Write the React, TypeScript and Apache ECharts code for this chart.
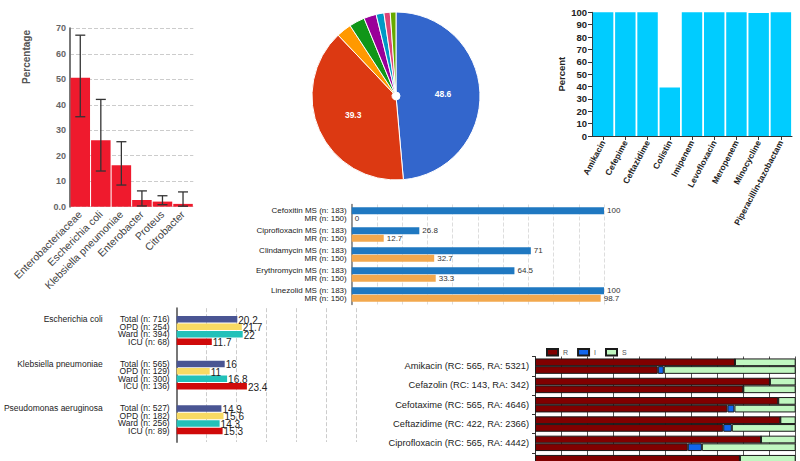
import React, { useEffect, useRef } from "react";
import * as echarts from "echarts";

const FONT = "'Liberation Sans', Arial, Helvetica, sans-serif";

// ---- Chart A: genera with error bars ----
const generaNames = ["Enterobacteriaceae", "Escherichia coli", "Klebsiella pneumoniae", "Enterobacter", "Proteus", "Citrobacter"];
const generaPct = [50.6, 26.1, 16.3, 2.6, 2.0, 1.1];
const generaLow = [35.3, 14.0, 8.5, 0.3, 0.8, 0.2];
const generaHigh = [67.3, 42.1, 25.5, 6.2, 4.3, 5.8];

// ---- Chart B: pie ----
const pieValues = [48.6, 39.3, 2.9, 3.0, 2.4, 1.5, 1.2, 1.1];
const pieColors = ["#3366cc", "#dc3912", "#ff9900", "#109618", "#990099", "#0099c6", "#dd4477", "#66aa00"];

// ---- Chart C: percent by antibiotic ----
const drugsC = ["Amikacin", "Cefepime", "Ceftazidime", "Colistin", "Imipenem", "Levofloxacin", "Meropenem", "Minocycline", "Piperacillin-tazobactam"];
const percentC = [100, 100, 100, 39.3, 100, 100, 100, 99.4, 100];

// ---- Chart D: MS / MR ----
const drugsD = ["Cefoxitin", "Ciprofloxacin", "Clindamycin", "Erythromycin", "Linezolid"];
const msValues = [100, 26.8, 71, 64.5, 100];
const mrValues = [0, 12.7, 32.7, 33.3, 98.7];
const msN = 183;
const mrN = 150;

// ---- Chart E: species by setting ----
const species = ["Escherichia coli", "Klebsiella pneumoniae", "Pseudomonas aeruginosa"];
const settings = ["Total", "OPD", "Ward", "ICU"];
const totalVals = [20.2, 16, 14.9];
const opdVals = [21.7, 11, 15.6];
const wardVals = [22, 16.8, 14.3];
const icuVals = [11.7, 23.4, 15.3];
const totalN = [716, 565, 527];
const opdN = [254, 129, 182];
const wardN = [394, 300, 256];
const icuN = [68, 136, 89];
const settingColors = ["#4a5593", "#f8da63", "#23c1b9", "#d00a0a"];

// ---- Chart F: R / I / S stacked ----
const drugsF = ["Amikacin", "Cefazolin", "Cefotaxime", "Ceftazidime", "Ciprofloxacin", ""];
const rcCounts = [565, 143, 565, 422, 565];
const raCounts = [5321, 342, 4646, 2366, 4442];
const rcR = [76.7, 90.1, 93.3, 94.1, 86.7, 78.6];
const rcI = [0, 0, 0, 0, 0, 0];
const rcS = [23.3, 9.9, 6.7, 5.9, 13.3, 21.4];
const raR = [47.1, 79.9, 73.8, 72.2, 58.6, 60];
const raI = [2.3, 0, 2.7, 3.3, 5.4, 0];
const raS = [50.6, 20.1, 23.5, 24.5, 36.0, 40];
const risColors = { R: "#800000", I: "#1166ee", S: "#c0f7c0" };

function buildOption() {
  const eVals = [totalVals, opdVals, wardVals, icuVals];
  const eN = [totalN, opdN, wardN, icuN];

  const hiddenValueAxis = (gridIndex: number, max: number, dashed: boolean, color: string) => ({
    gridIndex,
    type: "value",
    min: 0,
    max,
    interval: 10,
    axisLabel: { show: false },
    axisLine: { show: false },
    axisTick: { show: false },
    splitLine: { show: true, lineStyle: { type: dashed ? "dashed" : "solid", color } },
  });

  const errorRender = (params: any, api: any) => {
    const idx = api.value(0);
    const lo = api.coord([idx, api.value(1)]);
    const hi = api.coord([idx, api.value(2)]);
    const half = 5;
    const style = { stroke: "#333", lineWidth: 1.3 };
    return {
      type: "group",
      children: [
        { type: "line", shape: { x1: hi[0], y1: hi[1], x2: lo[0], y2: lo[1] }, style },
        { type: "line", shape: { x1: hi[0] - half, y1: hi[1], x2: hi[0] + half, y2: hi[1] }, style },
        { type: "line", shape: { x1: lo[0] - half, y1: lo[1], x2: lo[0] + half, y2: lo[1] }, style },
      ],
    };
  };

  const fSeries: any[] = [];
  const stacks: [string, number[][]][] = [
    ["rc", [rcR, rcI, rcS]],
    ["ra", [raR, raI, raS]],
  ];
  stacks.forEach(([stack, arrs]) => {
    (["R", "I", "S"] as const).forEach((k, j) => {
      fSeries.push({
        type: "bar",
        name: k,
        stack,
        xAxisIndex: 4,
        yAxisIndex: 5,
        data: arrs[j],
        barWidth: 7.7,
        barGap: "0%",
        barCategoryGap: "20%",
        itemStyle: { color: risColors[k], borderColor: "#1a1a1a", borderWidth: 1 },
      });
    });
  });

  return {
    animation: false,
    backgroundColor: "#fff",
    textStyle: { fontFamily: FONT },
    grid: [
      { left: 70, top: 28.3, width: 123.3, height: 178.4 },
      { left: 592, top: 12.3, width: 200, height: 123.7 },
      { left: 351.7, top: 204.5, width: 252.3, height: 100 },
      { left: 176.7, top: 308.2, width: 180, height: 133.8 },
      { left: 535, top: 356.5, width: 260.7, height: 115.8 },
    ],
    legend: {
      data: ["R", "I", "S"],
      left: 541,
      top: 343,
      itemWidth: 11,
      itemHeight: 6.5,
      itemGap: 9,
      icon: "rect",
      selectedMode: false,
      textStyle: { fontSize: 7, color: "#555", fontFamily: FONT },
    },
    graphic: [
      {
        type: "text",
        x: 26,
        y: 57,
        rotation: Math.PI / 2,
        style: {
          text: "Percentage",
          font: `bold 10px ${FONT}`,
          fill: "#555",
          textAlign: "center",
          textVerticalAlign: "middle",
        },
      },
    ],
    xAxis: [
      {
        gridIndex: 0,
        type: "category",
        data: generaNames,
        axisLine: { show: false },
        axisTick: { show: false },
        axisLabel: { rotate: 45, interval: 0, fontSize: 10.5, color: "#444", margin: 6, fontFamily: FONT },
      },
      {
        gridIndex: 1,
        type: "category",
        data: drugsC,
        axisLine: { show: true, lineStyle: { color: "#333" } },
        axisTick: { show: true, alignWithLabel: true, length: 4, lineStyle: { color: "#333" } },
        axisLabel: { rotate: 62, interval: 0, fontSize: 8.5, fontWeight: "bold", color: "#222", margin: 5, fontFamily: FONT },
      },
      hiddenValueAxis(2, 100, true, "#ddd"),
      hiddenValueAxis(3, 60, true, "#ccc"),
      hiddenValueAxis(4, 100, false, "#555"),
    ],
    yAxis: [
      {
        gridIndex: 0,
        type: "value",
        min: 0,
        max: 70,
        interval: 10,
        axisLine: { show: true, lineStyle: { color: "#777", width: 2 } },
        axisTick: { show: false },
        axisLabel: {
          formatter: (v: number) => (v === 0 ? "0.0" : String(v)),
          fontSize: 9,
          fontWeight: "bold",
          color: "#666",
          margin: 4,
          fontFamily: FONT,
        },
        splitLine: { show: true, lineStyle: { type: "dashed", color: "#ccc" } },
      },
      {
        gridIndex: 1,
        type: "value",
        min: 0,
        max: 100,
        interval: 10,
        name: "Percent",
        nameLocation: "middle",
        nameGap: 26,
        nameTextStyle: { fontWeight: "bold", fontSize: 9.5, color: "#222", fontFamily: FONT },
        axisLine: { show: true, lineStyle: { color: "#333" } },
        axisTick: { show: true, length: 4, lineStyle: { color: "#333" } },
        axisLabel: { fontSize: 9.5, fontWeight: "bold", color: "#222", margin: 5, fontFamily: FONT },
        splitLine: { show: false },
      },
      {
        gridIndex: 2,
        type: "category",
        inverse: true,
        data: drugsD,
        axisLine: { show: true, lineStyle: { color: "#777", width: 1.5 } },
        axisTick: { show: false },
        axisLabel: {
          formatter: (name: string) => `${name} MS (n: ${msN})\nMR (n: ${mrN})`,
          fontSize: 8,
          lineHeight: 7.6,
          color: "#222",
          margin: 5,
          fontFamily: FONT,
        },
      },
      {
        gridIndex: 3,
        type: "category",
        inverse: true,
        data: species,
        axisLine: { show: true, lineStyle: { color: "#777", width: 2 } },
        axisTick: { show: false },
        axisLabel: {
          formatter: (_name: string, idx: number) =>
            settings.map((s, k) => `${s} (n: ${eN[k][idx]})`).join("\n"),
          fontSize: 8.5,
          lineHeight: 7.5,
          color: "#222",
          margin: 7,
          fontFamily: FONT,
        },
      },
      {
        gridIndex: 3,
        type: "category",
        inverse: true,
        data: species,
        position: "left",
        offset: 66,
        axisLine: { show: false },
        axisTick: { show: false },
        axisLabel: {
          formatter: (name: string) => `${name}\n \n \n `,
          fontSize: 8.5,
          lineHeight: 7.5,
          color: "#222",
          margin: 8,
          fontFamily: FONT,
        },
      },
      {
        gridIndex: 4,
        type: "category",
        inverse: true,
        data: drugsF,
        axisLine: { show: true, lineStyle: { color: "#333" } },
        axisTick: { show: true, length: 3, lineStyle: { color: "#333" } },
        axisLabel: {
          formatter: (name: string, idx: number) =>
            idx < rcCounts.length ? `${name} (RC: ${rcCounts[idx]}, RA: ${raCounts[idx]})` : "",
          fontSize: 9.3,
          color: "#222",
          margin: 6,
          fontFamily: FONT,
        },
      },
    ],
    series: [
      {
        type: "bar",
        xAxisIndex: 0,
        yAxisIndex: 0,
        data: generaPct,
        barCategoryGap: "5%",
        itemStyle: { color: "#ef1a2d" },
      },
      {
        type: "custom",
        xAxisIndex: 0,
        yAxisIndex: 0,
        z: 5,
        data: generaNames.map((_, i) => [i, generaLow[i], generaHigh[i]]),
        encode: { x: 0, y: [1, 2] },
        renderItem: errorRender,
      },
      {
        type: "pie",
        center: [396, 96],
        radius: [4, 84],
        startAngle: 90,
        clockwise: true,
        avoidLabelOverlap: false,
        silent: true,
        data: pieValues.map((v, i) => ({ value: v, itemStyle: { color: pieColors[i] } })),
        itemStyle: { borderColor: "#fff", borderWidth: 1 },
        label: {
          show: true,
          position: "inside",
          formatter: (p: any) => (p.value > 10 ? String(p.value) : ""),
          color: "#fff",
          fontWeight: "bold",
          fontSize: 8.5,
          fontFamily: FONT,
        },
        labelLine: { show: false },
      },
      {
        type: "bar",
        xAxisIndex: 1,
        yAxisIndex: 1,
        data: percentC,
        barCategoryGap: "8%",
        itemStyle: { color: "#00ccff" },
      },
      {
        type: "bar",
        name: "MS",
        xAxisIndex: 2,
        yAxisIndex: 2,
        data: msValues,
        barWidth: 7,
        barGap: "8%",
        itemStyle: { color: "#1f78c1" },
        label: { show: true, position: "right", distance: 3, fontSize: 8, color: "#333", fontFamily: FONT },
      },
      {
        type: "bar",
        name: "MR",
        xAxisIndex: 2,
        yAxisIndex: 2,
        data: mrValues,
        barWidth: 7,
        barGap: "8%",
        itemStyle: { color: "#f2a84e" },
        label: { show: true, position: "right", distance: 3, fontSize: 8, color: "#333", fontFamily: FONT },
      },
      ...settings.map((s, k) => ({
        type: "bar",
        name: s,
        xAxisIndex: 3,
        yAxisIndex: 3,
        data: eVals[k],
        barWidth: 6.5,
        barGap: "15%",
        itemStyle: { color: settingColors[k] },
        label: {
          show: true,
          position: "right",
          distance: 1,
          offset: [0, 1],
          fontSize: 10,
          color: "#222",
          fontFamily: FONT,
        },
      })),
      ...fSeries,
    ],
  };
}

export default function App() {
  const ref = useRef<HTMLDivElement>(null);
  useEffect(() => {
    if (!ref.current) return;
    const chart = echarts.init(ref.current, null, { renderer: "svg", width: 800, height: 480 });
    chart.setOption(buildOption() as any);
    return () => chart.dispose();
  }, []);
  return (
    <div
      ref={ref}
      style={{ position: "fixed", left: 0, top: 0, width: 800, height: 480, background: "#fff" }}
    />
  );
}
